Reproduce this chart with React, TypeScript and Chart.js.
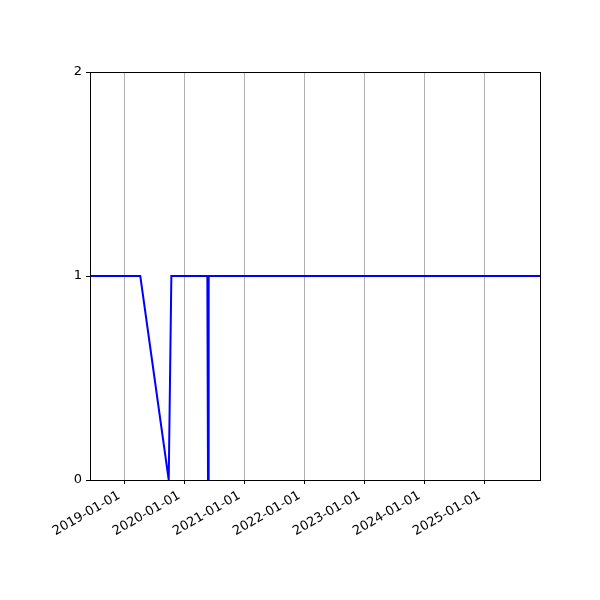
import {useEffect, useRef} from 'react';
import {Chart, registerables} from 'chart.js';

Chart.register(...registerables);

// dates of the points and their values
const dates = [
    "2018-06-06", "2019-04-08", "2019-09-28", "2019-10-14",
    "2020-05-20", "2020-05-24", "2020-05-28", "2025-12-04",
];
const values = [1, 1, 0, 1, 1, 0, 1, 1];

const tickDates = [
    "2019-01-01", "2020-01-01", "2021-01-01", "2022-01-01",
    "2023-01-01", "2024-01-01", "2025-01-01",
];
const yTicks = [0, 1, 2];

const toMs = (d: string) => Date.parse(d + "T00:00:00Z");

const framePlugin = {
    id: "frame",
    afterDraw(chart: any) {
        const {ctx, chartArea: a} = chart;
        ctx.save();
        ctx.strokeStyle = "#000";
        ctx.lineWidth = 1;
        ctx.strokeRect(a.left + 0.5, a.top + 0.5, a.right - a.left, a.bottom - a.top);
        ctx.restore();
    },
};

const App = () => {
    const canvasRef = useRef<HTMLCanvasElement | null>(null);
    const chartRef = useRef<Chart | null>(null);

    useEffect(() => {
        document.body.style.margin = "0";
        const ctx = canvasRef.current?.getContext("2d");
        if (!ctx) return;
        const font = {family: "DejaVu Sans", size: 13};

        chartRef.current = new Chart(ctx, {
            type: "line",
            data: {
                datasets: [
                    {
                        data: dates.map((d, i) => ({x: toMs(d), y: values[i]})),
                        borderColor: "#0000ff",
                        borderWidth: 2,
                        pointRadius: 0,
                        tension: 0,
                        fill: false,
                    },
                ],
            },
            options: {
                animation: false,
                responsive: false,
                layout: {padding: {top: 72, right: 60, left: 0, bottom: 0}},
                plugins: {
                    legend: {display: false},
                    tooltip: {enabled: false},
                },
                scales: {
                    x: {
                        type: "linear",
                        min: toMs(dates[0]),
                        max: toMs(dates[dates.length - 1]),
                        afterBuildTicks: (s: any) => {
                            s.ticks = tickDates.map((d) => ({value: toMs(d)}));
                        },
                        afterFit: (s: any) => {
                            s.height = 120;
                        },
                        ticks: {
                            autoSkip: false,
                            maxRotation: 30,
                            minRotation: 30,
                            color: "#000",
                            font,
                            padding: 4,
                            labelOffset: -5,
                            callback: (v: any) => new Date(v).toISOString().slice(0, 10),
                        },
                        grid: {
                            color: "#b0b0b0",
                            tickColor: "#000",
                            tickLength: 4,
                            lineWidth: 1,
                        },
                        border: {display: true, color: "#000"},
                    },
                    y: {
                        min: 0,
                        max: 2,
                        afterBuildTicks: (s: any) => {
                            s.ticks = yTicks.map((v) => ({value: v}));
                        },
                        afterFit: (s: any) => {
                            s.width = 90;
                        },
                        ticks: {
                            color: "#000",
                            font,
                            padding: 4,
                        },
                        grid: {
                            drawOnChartArea: false,
                            tickColor: "#000",
                            tickLength: 4,
                        },
                        border: {display: true, color: "#000"},
                    },
                },
            },
            plugins: [framePlugin],
        });
        return () => chartRef.current?.destroy();
    }, []);

    return (
        <div style={{width: 600, height: 600, background: "#fff"}}>
            <canvas ref={canvasRef} width={600} height={600} />
        </div>
    );
};

export default App;
